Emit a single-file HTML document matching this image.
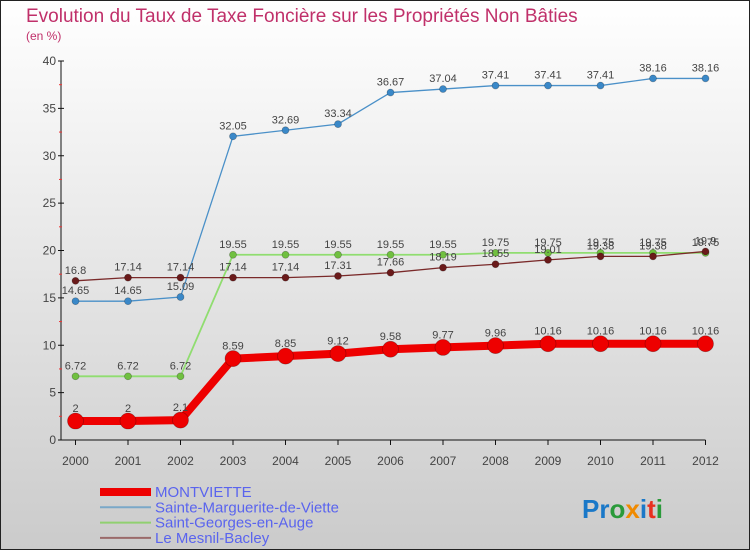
<!DOCTYPE html>
<html><head><meta charset="utf-8"><style>
body{margin:0;width:750px;height:550px;overflow:hidden}
svg{display:block;font-family:"Liberation Sans",sans-serif}
</style></head><body>
<svg id="c" width="750" height="550">
<defs><linearGradient id="bg" x1="0" y1="0" x2="0" y2="1"><stop offset="0" stop-color="#ffffff"/><stop offset="1" stop-color="#cbcbcb"/></linearGradient></defs>
<rect x="0.5" y="0.5" width="749" height="549" fill="url(#bg)" stroke="#222"/>
<text x="26" y="22" font-size="19" fill="#c0306a">Evolution du Taux de Taxe Foncière sur les Propriétés Non Bâties</text>
<text x="26" y="40" font-size="12" fill="#c0306a">(en %)</text>
<g id="axes"></g><g id="series"></g><g id="legend"></g>
<text x="582" y="518" font-size="26" font-weight="bold"><tspan fill="#1a78c8">Pr</tspan><tspan fill="#2a9a3a">o</tspan><tspan fill="#f08a00">x</tspan><tspan fill="#1a78c8">i</tspan><tspan fill="#e83020">t</tspan><tspan fill="#2a9a3a">i</tspan></text>
</svg>
<script>
const years=[2000,2001,2002,2003,2004,2005,2006,2007,2008,2009,2010,2011,2012];
const yTicks=[0,5,10,15,20,25,30,35,40];
const montviette=[2,2,2.1,8.59,8.85,9.12,9.58,9.77,9.96,10.16,10.16,10.16,10.16];
const sainteMarguerite=[14.65,14.65,15.09,32.05,32.69,33.34,36.67,37.04,37.41,37.41,37.41,38.16,38.16];
const saintGeorges=[6.72,6.72,6.72,19.55,19.55,19.55,19.55,19.55,19.75,19.75,19.75,19.75,19.75];
const mesnil=[16.8,17.14,17.14,17.14,17.14,17.31,17.66,18.19,18.55,19.01,19.38,19.38,19.9];
const names=["MONTVIETTE","Sainte-Marguerite-de-Viette","Saint-Georges-en-Auge","Le Mesnil-Bacley"];
const NS="http://www.w3.org/2000/svg";
const X=i=>75.5+i*52.5, Y=v=>440-v*9.475;
function mk(p,t,a){const e=document.createElementNS(NS,t);for(const k in a)e.setAttribute(k,a[k]);p.appendChild(e);return e;}
const ax=document.getElementById('axes');
let l=mk(ax,'line',{x1:61,y1:Y(40),x2:61,y2:Y(0),stroke:'#111'});


l=mk(ax,'line',{x1:61,y1:Y(0),x2:X(12),y2:Y(0),stroke:'#111'});


yTicks.forEach(v=>{mk(ax,'line',{x1:58,x2:64,y1:Y(v),y2:Y(v),stroke:'#111'});
 if(v<40)mk(ax,'line',{x1:59,x2:62,y1:Y(v+2.5),y2:Y(v+2.5),stroke:'#e33'});
 const t=mk(ax,'text',{x:56,y:Y(v)+4,'font-size':12,fill:'#444','text-anchor':'end'});t.textContent=v;
 
 });
years.forEach((y,i)=>{mk(ax,'line',{x1:X(i),x2:X(i),y1:Y(0),y2:Y(0)+5,stroke:'#111'});
 const t=mk(ax,'text',{x:X(i),y:465,'font-size':12,fill:'#444','text-anchor':'middle'});t.textContent=y;
 
 });
const defs=[[sainteMarguerite,'#4a90c8','#3a88c8',1.3,3.5],[saintGeorges,'#90dd70','#70c040',1.8,3.5],[mesnil,'#7a2a2a','#6a1a1a',1.3,3.5],[montviette,'#ee0000','#ee0000',8,8]];
const sg=document.getElementById('series');
const keys=['sainte-marguerite','saint-georges','le-mesnil-bacley','montviette'];
defs.forEach(([d,c,dc,w,r],k)=>{const g=mk(sg,'g',{});
 
 
 mk(g,'polyline',{points:d.map((v,i)=>X(i)+','+Y(v)).join(' '),fill:'none',stroke:c,'stroke-width':w});
 d.forEach((v,i)=>{const p=mk(g,'circle',{cx:X(i),cy:Y(v),r:r,fill:dc,stroke:'rgba(0,0,0,0.3)','stroke-width':0.7});
  
  
  const t=mk(g,'text',{x:X(i),y:Y(v)-(k==3?9:7),'font-size':11,fill:'#444','text-anchor':'middle'});t.textContent=v;
  
  });});
const lg=document.getElementById('legend');
const lc=['#ee0000','#7aa8c8','#90d070','#9a6a6a'],lw=[8,2,2,2];
names.forEach((n,k)=>{const y=492+k*15.3;const g=mk(lg,'g',{});
 
 
 mk(g,'line',{x1:100,x2:151,y1:y,y2:y,stroke:lc[k],'stroke-width':lw[k]});
 const t=mk(g,'text',{x:155,y:y+5,'font-size':15,fill:'#5a64ee'});t.textContent=n;});
</script>
</body></html>
